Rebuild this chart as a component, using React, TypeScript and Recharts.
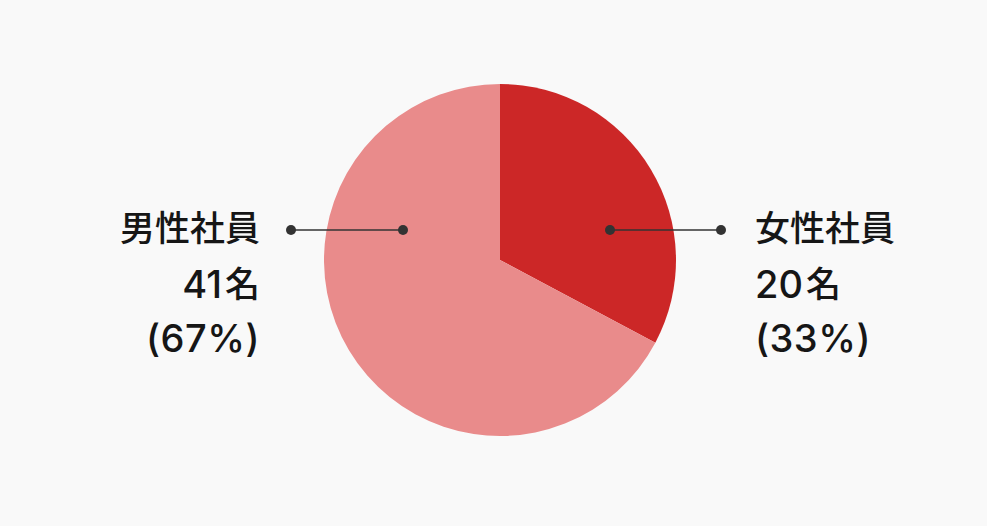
import { PieChart, Pie, Cell } from "recharts";

const categories = ["女性社員", "男性社員"];
const counts = [20, 41];
const colors = ["#cc2727", "#e98b8b"];

const data = categories.map((name, i) => ({ name, value: counts[i] }));

const RAD = Math.PI / 180;
const FONT = "Inter, 'Noto Sans CJK JP', sans-serif";

const renderLabel = (props: any) => {
  const { cx, cy, midAngle, percent, index } = props;
  const right = Math.cos(-midAngle * RAD) >= 0;
  const y = cy - 30;
  // leader line ends, from the pie centre
  const x1 = right ? cx + 110 : cx - 97;
  const x2 = right ? cx + 221 : cx - 209;
  const tx = right ? cx + 255 : cx - 240;
  const anchor = right ? "start" : "end";
  const common = {
    x: tx,
    textAnchor: anchor,
    dominantBaseline: "central",
    fill: "#161616",
    fontFamily: FONT,
  } as any;
  return (
    <g key={`lbl-${index}`}>
      <line x1={x1} y1={y} x2={x2} y2={y} stroke="#333" strokeWidth={1.5} />
      <circle cx={x1} cy={y} r={5} fill="#333" />
      <circle cx={x2} cy={y} r={5} fill="#333" />
      <text {...common} y={y - 2} fontSize={35} fontWeight={500}>
        {categories[index]}
      </text>
      <text {...common} y={y + 54} fontSize={35} fontWeight={500}>
        <tspan fontSize={38}>{counts[index]}</tspan>
        <tspan dx={3}>名</tspan>
      </text>
      <text {...common} y={y + 108} fontSize={38} fontWeight={500} letterSpacing={0.5}>
        {`(${Math.round(percent * 100)}%)`}
      </text>
    </g>
  );
};

export default function App() {
  return (
    <div style={{ position: "fixed", left: 0, top: 0, width: 987, height: 526, background: "#f9f9f9" }}>
      <PieChart width={987} height={526} margin={{ top: 0, right: 0, bottom: 0, left: 0 }}>
        <Pie
          data={data}
          dataKey="value"
          cx={500}
          cy={260}
          outerRadius={176}
          startAngle={90}
          endAngle={-270}
          stroke="none"
          label={renderLabel}
          labelLine={false}
          isAnimationActive={false}
        >
          {data.map((d, i) => (
            <Cell key={d.name} fill={colors[i]} />
          ))}
        </Pie>
      </PieChart>
    </div>
  );
}
